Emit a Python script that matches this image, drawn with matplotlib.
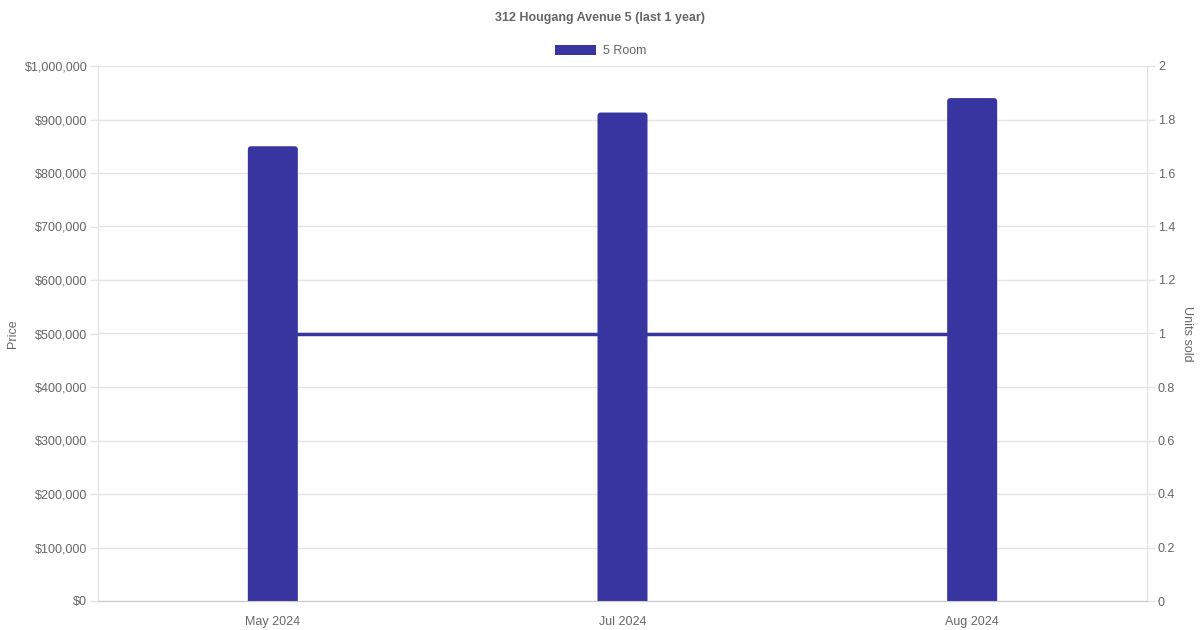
import matplotlib.pyplot as plt
from matplotlib.patches import FancyBboxPatch
from matplotlib.ticker import FuncFormatter, MultipleLocator

months = ["May 2024", "Jul 2024", "Aug 2024"]
prices = [850000, 913000, 940000]
units = [1, 1, 1]

bar_color = "#3834a0"
grid_color = "#e4e4e4"
text_color = "#666666"

plt.rcParams["font.family"] = ["Liberation Sans", "DejaVu Sans"]

fig = plt.figure(figsize=(12, 6.3), dpi=100)
ax = fig.add_axes([98 / 1200, 29 / 630, 1049 / 1200, 535 / 630])
ax2 = ax.twinx()

x = list(range(len(months)))
bars = ax.bar(x, prices, width=0.143, color=bar_color, zorder=3)
# swap plain bars for ones with rounded top corners (bottom hidden below the axis)
x_per_px = 1 / 349.67
y_per_px = 1000000 / 535
for b in bars:
    b.set_visible(False)
    drop = 8 * y_per_px
    p = FancyBboxPatch((b.get_x(), b.get_y() - drop), b.get_width(), b.get_height() + drop,
                       boxstyle="round,pad=0,rounding_size=%f" % (3 * x_per_px),
                       mutation_aspect=y_per_px / x_per_px,
                       fc=bar_color, ec="none", zorder=3)
    ax.add_patch(p)

ax2.plot(x, units, color=bar_color, lw=2.5, zorder=2)
ax.set_zorder(ax2.get_zorder() + 1)
ax.patch.set_visible(False)

ax.set_xlim(-0.5, len(months) - 0.5)
ax.set_ylim(0, 1000000)
ax2.set_ylim(0, 2)
ax.set_xticks(x)
ax.set_xticklabels(months)
ax.yaxis.set_major_locator(MultipleLocator(100000))
ax.yaxis.set_major_formatter(FuncFormatter(lambda v, p: "${:,.0f}".format(v)))
ax2.yaxis.set_major_locator(MultipleLocator(0.2))
ax2.yaxis.set_major_formatter(FuncFormatter(lambda v, p: "{:g}".format(round(v, 1))))

# grid lives on the twin axis so the units line sits above it
ax2.grid(axis="y", color=grid_color, lw=1, zorder=0)
ax2.set_axisbelow(True)
for a in (ax, ax2):
    for s in a.spines.values():
        s.set_color(grid_color)
    a.spines["top"].set_visible(False)
    a.tick_params(colors=text_color, labelsize=9, length=5.8, width=1, pad=2)
    a.tick_params(axis="y", color=grid_color)
ax.spines["bottom"].set_color("#cccccc")
ax2.spines["bottom"].set_color("#cccccc")
ax.spines["bottom"].set_zorder(5)
ax.tick_params(axis="x", length=0, pad=11)

ax.set_ylabel("Price", color=text_color, fontsize=9, labelpad=4)
ax2.set_ylabel("Units sold", color=text_color, fontsize=9, rotation=270, labelpad=13)

fig.text(0.5, 1 - 18 / 630, "312 Hougang Avenue 5 (last 1 year)", ha="center", va="center",
         fontsize=9, fontweight="bold", color=text_color)
leg = ax.legend([bars], ["5 Room"], loc="upper center",
                bbox_to_anchor=(0.5 - 22 / 1049, 1 + 26 / 535),
                frameon=False, fontsize=9, handlelength=3.3, handleheight=0.9,
                handletextpad=0.5, borderaxespad=0)
for t in leg.get_texts():
    t.set_color(text_color)
for h in leg.legend_handles:
    h.set_visible(True)

fig.savefig("out.png", dpi=100)
